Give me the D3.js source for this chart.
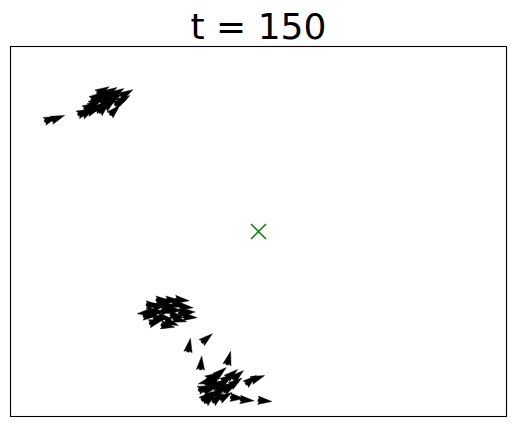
<!DOCTYPE html>
<html lang="en">
<head>
<meta charset="utf-8">
<title>t = 150</title>
<style>
  body { margin: 0; background: #fff; }
  .frame { fill: none; stroke: #000; stroke-width: 1.1px; }
  .boid { fill: #000; stroke: #000; stroke-width: 0.4px; }
  .target { fill: none; stroke: #008000; stroke-width: 1.5px; }
  .title { font-family: "DejaVu Sans", sans-serif; font-size: 36px; fill: #000; }
</style>
</head>
<body>
<div id="chart"></div>
<script src="https://cdn.jsdelivr.net/npm/d3@7/dist/d3.min.js"></script>
<script>
  // boid positions (data units) and headings (degrees, counter-clockwise from +x)
  var boidX = [8.1, 9.5, 14.8, 16.0, 17.2, 18.2, 19.2, 20.2, 18.0, 19.6, 21.2, 23.4, 22.2, 21.0, 16.8, 18.6,
               15.6, 17.4, 19.0, 20.4, 21.6, 17.0, 20.0, 22.8, 18.8,
               26.9, 29.1, 30.1, 31.3, 32.7, 33.9, 31.7, 33.5, 35.2, 30.1, 32.5, 35.4, 36.2, 28.7,
               28.1, 29.7, 30.7, 32.1, 33.1, 34.6, 31.1, 34.1, 35.8, 29.3, 31.7,
               39.6, 36.0, 38.4, 44.0,
               39.2, 40.8, 42.4, 43.8, 45.9, 41.8, 40.2, 39.6, 42.2, 44.2, 45.7, 47.7, 51.3, 48.5, 49.9, 43.4,
               40.6, 41.4, 43.0, 44.7, 41.0, 42.6, 39.2, 45.5, 43.8, 41.8, 40.2];
  var boidY = [80.5, 80.8, 82.4, 84.0, 85.4, 86.7, 87.5, 88.1, 84.0, 85.6, 86.4, 87.5, 85.1, 82.9, 82.9, 88.3,
               82.4, 86.7, 86.2, 87.0, 87.8, 84.6, 84.6, 85.9, 83.5,
               27.9, 28.2, 29.8, 30.9, 31.4, 30.1, 28.5, 27.1, 27.9, 26.6, 25.2, 29.5, 26.8, 30.1,
               27.1, 28.2, 31.4, 29.8, 28.7, 31.4, 26.6, 26.0, 28.2, 25.5, 24.4,
               21.1, 19.2, 14.4, 15.7,
               9.2, 10.8, 11.9, 10.3, 11.1, 8.7, 7.3, 5.4, 6.5, 7.6, 4.9, 4.3, 4.1, 9.8, 10.3, 5.4,
               8.7, 10.3, 9.2, 11.4, 6.0, 7.6, 7.6, 9.2, 8.1, 4.9, 4.9];
  var boidHeading = [20, 20, 25, 30, 35, 35, 30, 30, 40, 35, 30, 30, 25, 45, 20, 30,
                     30, 35, 35, 30, 30, 30, 40, 30, 45,
                     185, 0, 10, 5, 0, -10, 0, -15, 0, 10, -20, -5, -5, 0,
                     0, 5, 0, 0, -5, -5, -10, -15, 0, 15, -10,
                     40, 80, 85, 75,
                     195, 30, 40, 35, 40, 30, 20, 40, 35, 30, -5, -5, -5, 40, 20, 30,
                     30, 35, 35, 40, 35, 30, 20, 35, 30, 40, 45];
  var targetX = 50, targetY = 50;
  var titleText = "t = 150";

  var W = 515, H = 426;
  var x = d3.scaleLinear().domain([0, 100]).range([11, 506]);
  var y = d3.scaleLinear().domain([0, 100]).range([416, 47]);

  var svg = d3.select("#chart").append("svg")
      .attr("width", W)
      .attr("height", H);

  svg.append("text")
      .attr("class", "title")
      .attr("x", (x.range()[0] + x.range()[1]) / 2)
      .attr("y", 39)
      .attr("text-anchor", "middle")
      .text(titleText);

  // quiver head shape (short arrow, no shaft), centred on the boid
  var L = 14, u = L / 5;
  var arrow = [[0, 0.5], [0.5, 0.5], [0, 1.5], [5, 0], [0, -1.5], [0.5, -0.5], [0, -0.5]]
      .map(function(p) { return [(p[0] - 2.5) * u, p[1] * u]; });
  var arrowPath = "M" + arrow.map(function(p) { return p.join(","); }).join("L") + "Z";

  var boids = boidX.map(function(d, i) {
    return {x: d, y: boidY[i], a: boidHeading[i]};
  });

  svg.append("g").selectAll("path")
      .data(boids)
    .enter().append("path")
      .attr("class", "boid")
      .attr("d", arrowPath)
      .attr("transform", function(d) {
        return "translate(" + x(d.x) + "," + y(d.y) + ") rotate(" + (-d.a) + ")";
      });

  var s = 7.5;
  svg.append("path")
      .attr("class", "target")
      .attr("d", "M" + (x(targetX) - s) + "," + (y(targetY) - s) + "L" + (x(targetX) + s) + "," + (y(targetY) + s) +
                 "M" + (x(targetX) - s) + "," + (y(targetY) + s) + "L" + (x(targetX) + s) + "," + (y(targetY) - s));

  svg.append("rect")
      .attr("class", "frame")
      .attr("x", 10.5)
      .attr("y", 46.5)
      .attr("width", 496)
      .attr("height", 370);
</script>
</body>
</html>
